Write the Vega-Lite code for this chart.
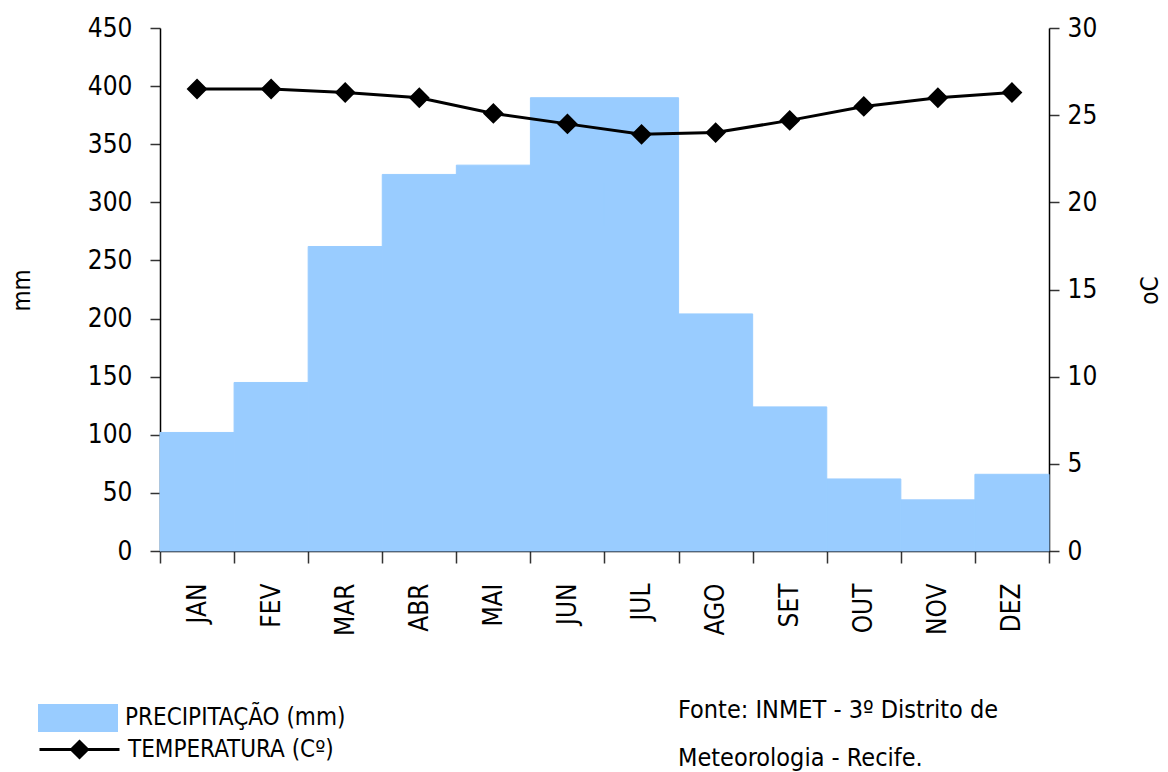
{
  "$schema": "https://vega.github.io/schema/vega-lite/v6.json",
  "width": 889,
  "height": 523,
  "autosize": {"type": "none"},
  "padding": {"left": 160, "top": 28, "right": 119, "bottom": 221},
  "background": "white",
  "config": {
    "font": "DejaVu Sans Condensed",
    "view": {"stroke": null},
    "axis": {"grid": false, "domainColor": "#000", "tickColor": "#333", "labelColor": "#000", "titleColor": "#000", "labelFont": "DejaVu Sans Condensed", "titleFont": "DejaVu Sans Condensed", "titleFontWeight": "normal"}
  },
  "title": {
    "text": ["Fonte: INMET - 3º Distrito de", "Meteorologia - Recife."],
    "orient": "bottom",
    "anchor": "start",
    "frame": "group",
    "dx": 518,
    "offset": -66,
    "fontSize": 25,
    "fontWeight": "normal",
    "lineHeight": 48,
    "color": "#000",
    "font": "DejaVu Sans Condensed"
  },
  "data": {
    "values": [
      {"month": "JAN", "precip": 102, "temp": 26.5},
      {"month": "FEV", "precip": 145, "temp": 26.5},
      {"month": "MAR", "precip": 262, "temp": 26.3},
      {"month": "ABR", "precip": 324, "temp": 26.0},
      {"month": "MAI", "precip": 332, "temp": 25.1},
      {"month": "JUN", "precip": 390, "temp": 24.5},
      {"month": "JUL", "precip": 390, "temp": 23.9},
      {"month": "AGO", "precip": 204, "temp": 24.0},
      {"month": "SET", "precip": 124, "temp": 24.7},
      {"month": "OUT", "precip": 62, "temp": 25.5},
      {"month": "NOV", "precip": 44, "temp": 26.0},
      {"month": "DEZ", "precip": 66, "temp": 26.3}
    ]
  },
  "layer": [
    {
      "mark": {"type": "bar", "fill": "#99ccff", "stroke": "#99ccff", "strokeWidth": 1},
      "encoding": {
        "x": {
          "field": "month", "type": "ordinal", "sort": null,
          "scale": {"paddingInner": 0, "paddingOuter": 0},
          "axis": {"title": null, "labelAngle": -90, "labelAlign": "right", "labelBaseline": "middle", "labelFontSize": 26, "labelPadding": 20, "ticks": true, "tickBand": "extent", "tickSize": 12, "tickWidth": 1.5, "domain": true, "domainWidth": 1.5}
        },
        "y": {
          "field": "precip", "type": "quantitative",
          "scale": {"domain": [0, 450], "nice": false},
          "axis": {"title": "mm", "titleAngle": -90, "titleFontSize": 24, "titleX": -138, "titleY": 262, "titleAlign": "center", "titleBaseline": "middle", "values": [0,50,100,150,200,250,300,350,400,450], "labelFontSize": 26, "tickSize": 10, "labelPadding": 18, "tickWidth": 1.5, "domainWidth": 1.5}
        },
        "fill": {
          "datum": "PRECIPITAÇÃO (mm)",
          "scale": {"range": ["#99ccff"]},
          "legend": {"title": null, "orient": "none", "legendX": -122, "legendY": 650, "symbolType": "M-1,-0.35H1V0.35H-1Z", "symbolSize": 6400, "symbolStrokeWidth": 0, "labelFontSize": 24, "labelOffset": 7, "labelLimit": 500, "padding": 0, "labelColor": "#000", "labelFont": "DejaVu Sans Condensed"}
        }
      }
    },
    {
      "mark": {"type": "line", "color": "#000", "strokeWidth": 3, "point": {"shape": "diamond", "filled": true, "size": 324, "color": "#000"}},
      "encoding": {
        "x": {"field": "month", "type": "ordinal", "sort": null},
        "y": {
          "field": "temp", "type": "quantitative",
          "scale": {"domain": [0, 30], "nice": false},
          "axis": {"orient": "right", "title": "oC", "titleAngle": -90, "titleFontSize": 24, "titleX": 101, "titleY": 262, "titleAlign": "center", "titleBaseline": "middle", "values": [0,5,10,15,20,25,30], "labelFontSize": 26, "tickSize": 10, "labelPadding": 8, "tickWidth": 1.5, "domainWidth": 1.5}
        },
        "stroke": {
          "datum": "TEMPERATURA (Cº)",
          "scale": {"range": ["#000"]},
          "legend": {"title": null, "orient": "none", "legendX": -122, "legendY": 680, "symbolType": "M-1,0H1M-0.2,0L0,-0.2L0.2,0L0,0.2Z", "symbolSize": 6400, "symbolStrokeWidth": 3, "labelFontSize": 24, "labelOffset": 7, "labelLimit": 500, "padding": 0, "labelColor": "#000", "labelFont": "DejaVu Sans Condensed", "encode": {"symbols": {"update": {"fill": {"value": "#000"}, "stroke": {"value": "#000"}, "strokeWidth": {"value": 3}}}}}
        }
      }
    }
  ],
  "resolve": {"scale": {"y": "independent", "fill": "independent", "stroke": "independent"}}
}
